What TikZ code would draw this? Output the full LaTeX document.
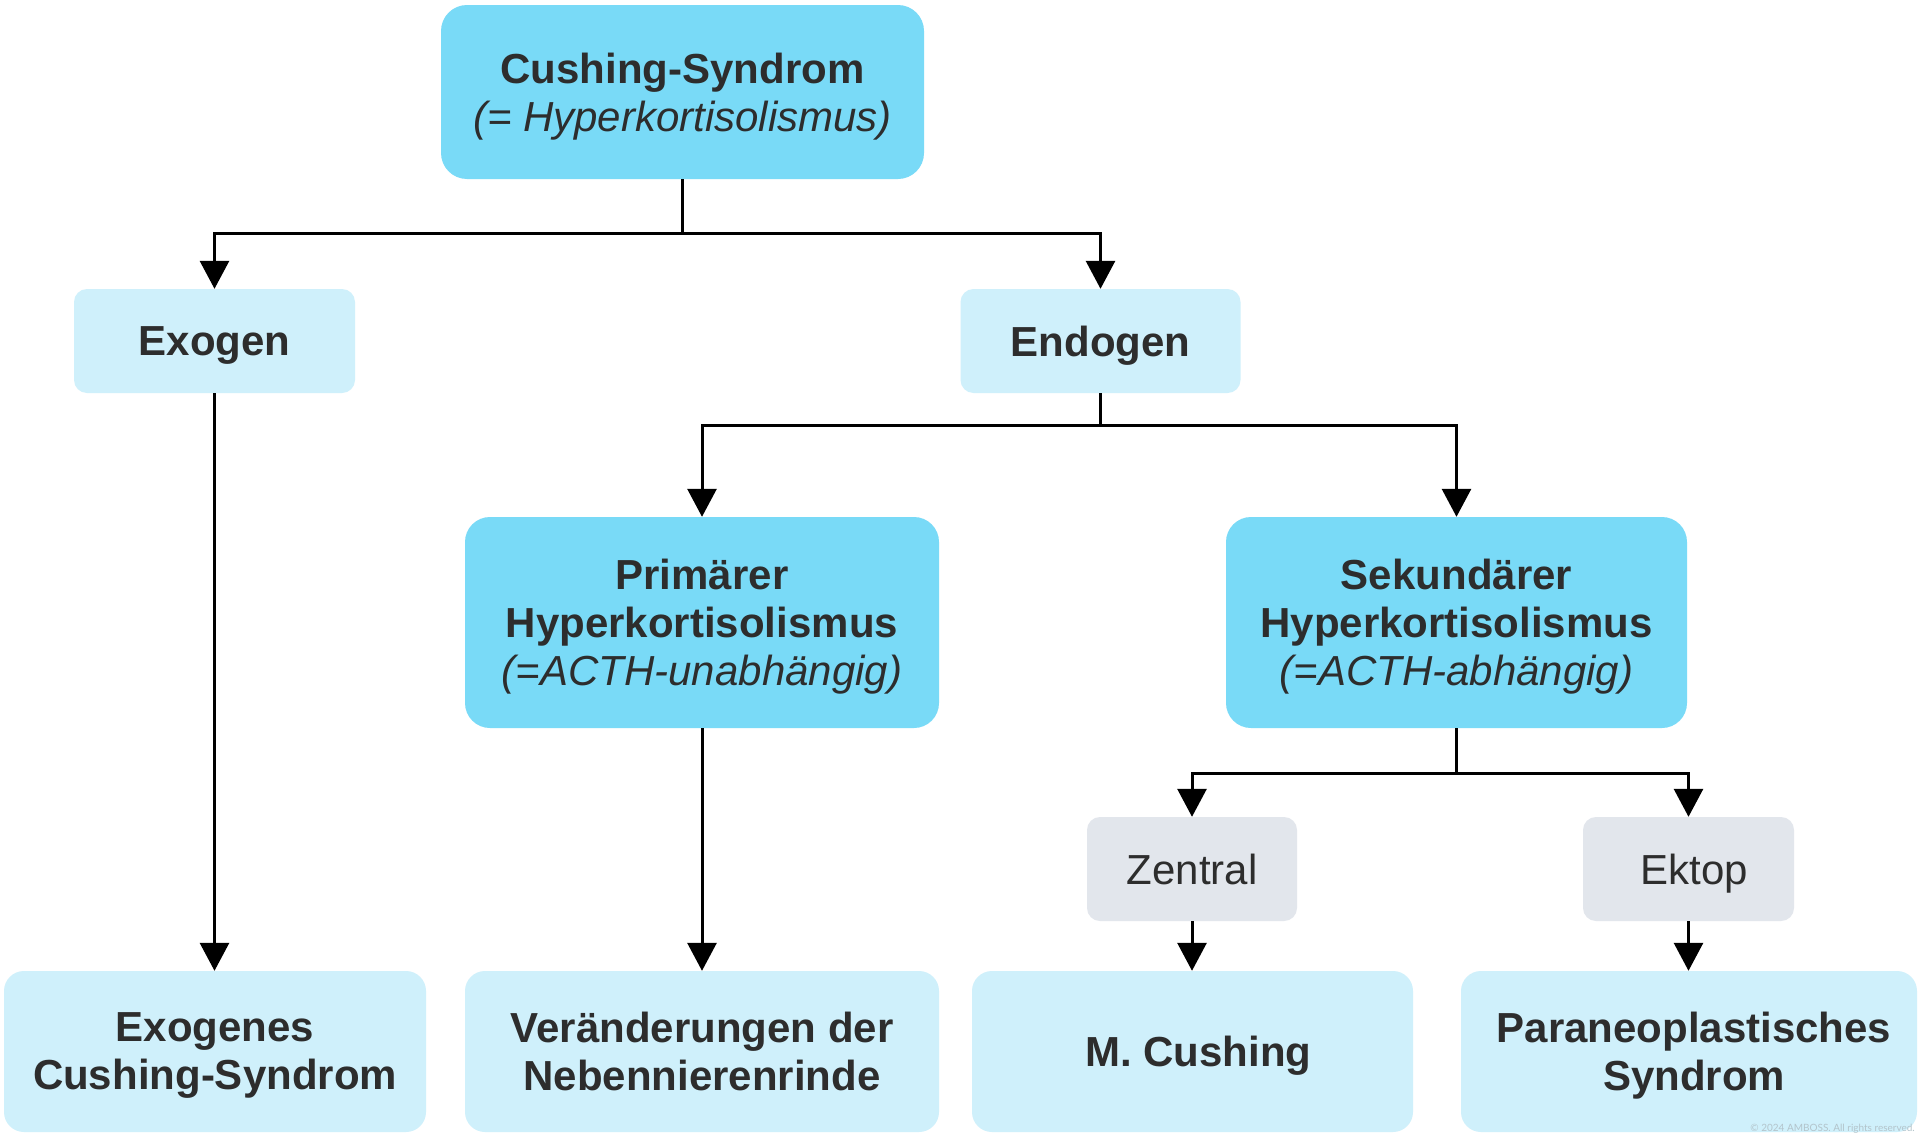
\documentclass[tikz,border=0pt]{standalone}
\usepackage{fontspec}
\setmainfont{Liberation Sans}
\newfontfamily\latofont{Lato}
\usetikzlibrary{arrows.meta}
\definecolor{darkbox}{HTML}{79DAF7}
\definecolor{lightbox}{HTML}{CFF0FB}
\definecolor{graybox}{HTML}{E2E6EC}
\definecolor{txt}{HTML}{2D2D2D}
\definecolor{copyc}{HTML}{B3C4CB}
\tikzset{
  box/.style={rounded corners=#1, inner sep=0pt, align=center, text=txt, text depth=0pt,
    font=\fontsize{42}{48}\selectfont\bfseries},
  dbox/.style={box=26pt, fill=darkbox},
  lbox/.style={box=13pt, fill=lightbox},
  bbox/.style={box=20pt, fill=lightbox},
  gbox/.style={box=13pt, fill=graybox, font=\fontsize{42}{48}\selectfont},
  conn/.style={line width=3pt, black},
  arr/.style={conn, -{Triangle[width=29pt,length=28pt]}},
}
\newcommand{\itl}[1]{{\mdseries\itshape #1}}
\begin{document}
\begin{tikzpicture}[x=1pt,y=-1pt]
\useasboundingbox (0,0) rectangle (1920,1135);
\fill[white] (0,0) rectangle (1920,1135);

\node[dbox, minimum width=483pt, minimum height=174pt] (top) at (682.5,92)
  {Cushing-Syndrom\\\itl{(= Hyperkortisolismus)}};
\node[lbox, minimum width=281pt, minimum height=104pt] (exo) at (214.5,341) {Exogen};
\node[lbox, minimum width=280pt, minimum height=104pt] (endo) at (1100.5,341) {Endogen};
\node[dbox, minimum width=474pt, minimum height=211pt, rounded corners=25pt] (prim) at (702,622.5)
  {Primärer\\Hyperkortisolismus\\\itl{(=ACTH-unabhängig)}};
\node[dbox, minimum width=461pt, minimum height=211pt, rounded corners=25pt] (sek) at (1456.5,622.5)
  {Sekundärer\\Hyperkortisolismus\\\itl{(=ACTH-abhängig)}};
\node[gbox, minimum width=210pt, minimum height=104pt] (zen) at (1192,869) {Zentral};
\node[gbox, minimum width=211pt, minimum height=104pt] (ekt) at (1688.5,869) {\hspace*{12pt}Ektop};
\node[bbox, minimum width=422pt, minimum height=161pt] (exo2) at (215,1051.5)
  {Exogenes\\Cushing-Syndrom};
\node[bbox, minimum width=474pt, minimum height=161pt] (ver) at (702,1051.5)
  {Veränderungen der\\Nebennierenrinde};
\node[bbox, minimum width=441pt, minimum height=161pt] (mc) at (1192.5,1051.5)
  {\hspace*{12pt}M. Cushing};
\node[bbox, minimum width=456pt, minimum height=161pt] (para) at (1689,1051.5)
  {\hspace*{10pt}Paraneoplastisches\\\hspace*{10pt}Syndrom};

\node[anchor=base east, inner sep=0pt, text=copyc, font=\latofont\fontsize{10}{12}\selectfont] (copy)
  at (1915,1131) {© 2024 AMBOSS. All rights reserved.};

% connectors
\draw[conn] (top.south) -- ++(0,54) coordinate (j1);
\draw[arr] (j1) -| (exo);
\draw[arr] (j1) -| (endo);
\draw[arr] (exo) -- (exo.south |- exo2.north);
\draw[conn] (endo.south) -- ++(0,32) coordinate (j2);
\draw[arr] (j2) -| (prim);
\draw[arr] (j2) -| (sek);
\draw[arr] (prim) -- (prim.south |- ver.north);
\draw[conn] (sek.south) -- ++(0,45) coordinate (j3);
\draw[arr] (j3) -| (zen);
\draw[arr] (j3) -| (ekt);
\draw[arr] (zen) -- (zen.south |- mc.north);
\draw[arr] (ekt) -- (ekt.south |- para.north);
\end{tikzpicture}
\end{document}
